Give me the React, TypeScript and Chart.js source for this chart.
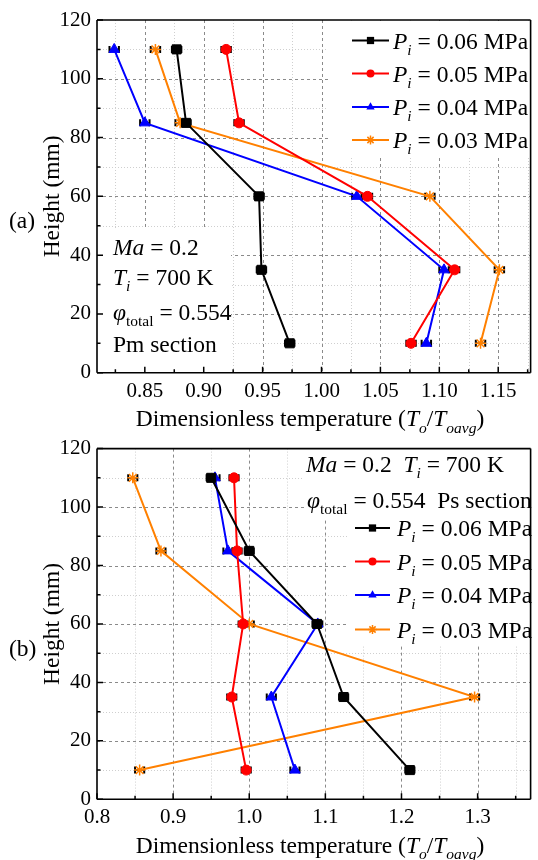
import React, { useEffect, useRef } from 'react';
import { Chart, registerables } from 'chart.js';
Chart.register(...registerables);

// ---------------- DATA ----------------
const heights = [110, 85, 60, 35, 10];
const pressureLabels = ['0.06', '0.05', '0.04', '0.03'];

// (a) Pm section
const pmP006 = [0.877, 0.885, 0.947, 0.949, 0.973];
const pmP005 = [0.919, 0.930, 1.039, 1.113, 1.076];
const pmP004 = [0.824, 0.850, 1.030, 1.104, 1.089];
const pmP003 = [0.859, 0.880, 1.092, 1.151, 1.135];
const pmErr = [0.004, 0.004, 0.004, 0.004, 0.004];

// (b) Ps section
const psP006 = [0.950, 1.000, 1.089, 1.124, 1.211];
const psP005 = [0.980, 0.984, 0.992, 0.977, 0.996];
const psP004 = [0.955, 0.972, 1.090, 1.029, 1.060];
const psP003 = [0.847, 0.884, 1.000, 1.296, 0.856];
const psErr = [0.006, 0.006, 0.006, 0.006, 0.006];

const xMajorA = [0.85, 0.9, 0.95, 1.0, 1.05, 1.1, 1.15];
const xMinorA = [0.825, 0.875, 0.925, 0.975, 1.025, 1.075, 1.125, 1.175];
const xMajorB = [0.8, 0.9, 1.0, 1.1, 1.2, 1.3];
const xMinorB = [0.85, 0.95, 1.05, 1.15, 1.25, 1.35];
const yMajor = [0, 20, 40, 60, 80, 100, 120];
const yMinor = [10, 30, 50, 70, 90, 110];

// ---------------- STYLE ----------------
const FONT = '"Liberation Serif", "Times New Roman", serif';
const colors = ['#000000', '#FF0000', '#0000FF', '#FF8000'];
const pointStyles = ['rect', 'circle', 'triangle', 'star'];
const pointRadii = [6.4, 5, 6, 5.5];

type Seg = { t: string; it?: boolean; sub?: boolean };

function segFont(s: Seg, size: number) {
  const sz = s.sub ? size * 0.66 : size;
  return `${s.it ? 'italic ' : ''}${sz}px ${FONT}`;
}
function drawRich(ctx: CanvasRenderingContext2D, segs: Seg[], x: number, y: number, size: number, align: 'left' | 'center' = 'left') {
  ctx.save();
  ctx.textBaseline = 'alphabetic';
  ctx.textAlign = 'left';
  ctx.fillStyle = '#000';
  let w = 0;
  for (const s of segs) { ctx.font = segFont(s, size); w += ctx.measureText(s.t).width; }
  let cx = align === 'center' ? x - w / 2 : x;
  for (const s of segs) {
    ctx.font = segFont(s, size);
    ctx.fillText(s.t, cx, s.sub ? y + size * 0.27 : y);
    cx += ctx.measureText(s.t).width;
  }
  ctx.restore();
}

function drawMarker(ctx: CanvasRenderingContext2D, style: string, x: number, y: number, r: number, color: string) {
  ctx.save();
  ctx.fillStyle = color;
  ctx.strokeStyle = color;
  ctx.lineWidth = 1.5;
  ctx.beginPath();
  if (style === 'rect') {
    const s = r * Math.SQRT1_2;
    ctx.rect(x - s, y - s, 2 * s, 2 * s);
    ctx.fill();
  } else if (style === 'circle') {
    ctx.arc(x, y, r, 0, Math.PI * 2);
    ctx.fill();
  } else if (style === 'triangle') {
    ctx.moveTo(x, y - r);
    ctx.lineTo(x + r * 0.866, y + r * 0.5);
    ctx.lineTo(x - r * 0.866, y + r * 0.5);
    ctx.closePath();
    ctx.fill();
  } else {
    for (let k = 0; k < 4; k++) {
      const a = (k * Math.PI) / 4;
      ctx.moveTo(x - r * Math.cos(a), y - r * Math.sin(a));
      ctx.lineTo(x + r * Math.cos(a), y + r * Math.sin(a));
    }
    ctx.stroke();
  }
  ctx.restore();
}

type PanelCfg = {
  key: string;
  series: number[][];
  err: number[];
  xMin: number; xMax: number;
  xMajor: number[]; xMinor: number[]; xDec: number;
  canvasH: number; top: number; z: number;
  padTop: number; plotBottom: number;
  boxes: number[][];
  notes: { segs: Seg[]; x: number; y: number }[];
  legend: { x0: number; x1: number; tx: number; ys: number[] };
  label: { t: string; x: number; y: number };
};

const panels: PanelCfg[] = [
  {
    key: 'a',
    series: [pmP006, pmP005, pmP004, pmP003],
    err: pmErr,
    xMin: 0.8094, xMax: 1.1775,
    xMajor: xMajorA, xMinor: xMinorA, xDec: 2,
    canvasH: 440, top: 0, z: 2,
    padTop: 20, plotBottom: 372.7,
    boxes: [[328, 21, 536, 158], [98, 230, 231, 372]],
    notes: [
      { segs: [{ t: 'Ma', it: true }, { t: ' = 0.2' }], x: 113, y: 254.5 },
      { segs: [{ t: 'T', it: true }, { t: 'i', it: true, sub: true }, { t: ' = 700 K' }], x: 113, y: 284.5 },
      { segs: [{ t: 'φ', it: true }, { t: 'total', sub: true }, { t: ' = 0.554' }], x: 113, y: 320 },
      { segs: [{ t: 'Pm section' }], x: 113, y: 351.5 },
    ],
    legend: { x0: 352, x1: 389, tx: 393, ys: [40.5, 73.5, 107, 140] },
    label: { t: '(a)', x: 9, y: 228 },
  },
  {
    key: 'b',
    series: [psP006, psP005, psP004, psP003],
    err: psErr,
    xMin: 0.8, xMax: 1.3696,
    xMajor: xMajorB, xMinor: xMinorB, xDec: 1,
    canvasH: 430, top: 430, z: 1,
    padTop: 16, plotBottom: 369.3,
    boxes: [[304, 17, 536, 90], [348, 80, 536, 216]],
    notes: [
      { segs: [{ t: 'Ma', it: true }, { t: ' = 0.2  ' }, { t: 'T', it: true }, { t: 'i', it: true, sub: true }, { t: ' = 700 K' }], x: 306, y: 41.5 },
      { segs: [{ t: 'φ', it: true }, { t: 'total', sub: true }, { t: ' = 0.554  Ps section' }], x: 307, y: 78 },
    ],
    legend: { x0: 355, x1: 390, tx: 397, ys: [98, 131.5, 165, 199.5] },
    label: { t: '(b)', x: 9, y: 226 },
  },
];

function buildConfig(cfg: PanelCfg): any {
  const datasets = cfg.series.map((vals, i) => ({
    label: pressureLabels[i],
    data: vals.map((v, j) => ({ x: v, y: heights[j] })),
    borderColor: colors[i],
    backgroundColor: colors[i],
    pointStyle: pointStyles[i],
    pointRadius: pointRadii[i],
    pointBorderWidth: i === 3 ? 1.5 : 1,
    borderWidth: 2,
    showLine: true,
    fill: false,
    tension: 0,
  }));

  const decor = {
    id: 'decor' + cfg.key,
    beforeDatasetsDraw(chart: any) {
      const ctx: CanvasRenderingContext2D = chart.ctx;
      const a = chart.chartArea;
      const xs = chart.scales.x;
      const ys = chart.scales.y;
      ctx.save();
      // minor grid
      ctx.strokeStyle = '#cfcfcf';
      ctx.lineWidth = 1;
      ctx.setLineDash([1, 2]);
      ctx.beginPath();
      for (const v of cfg.xMinor) {
        const px = Math.round(xs.getPixelForValue(v)) + 0.5;
        if (px <= a.left || px >= a.right) continue;
        ctx.moveTo(px, a.top); ctx.lineTo(px, a.bottom);
      }
      for (const v of yMinor) {
        const py = Math.round(ys.getPixelForValue(v)) + 0.5;
        ctx.moveTo(a.left, py); ctx.lineTo(a.right, py);
      }
      ctx.stroke();
      // major grid
      ctx.strokeStyle = '#8a8a8a';
      ctx.setLineDash([3, 3]);
      ctx.beginPath();
      for (const v of cfg.xMajor) {
        const px = Math.round(xs.getPixelForValue(v)) + 0.5;
        if (px <= a.left + 1 || px >= a.right) continue;
        ctx.moveTo(px, a.top); ctx.lineTo(px, a.bottom);
      }
      for (const v of yMajor) {
        const py = Math.round(ys.getPixelForValue(v)) + 0.5;
        if (py <= a.top + 1 || py >= a.bottom - 1) continue;
        ctx.moveTo(a.left, py); ctx.lineTo(a.right, py);
      }
      ctx.stroke();
      ctx.setLineDash([]);
      // white boxes (legend / note backgrounds)
      ctx.fillStyle = '#ffffff';
      for (const b of cfg.boxes) ctx.fillRect(b[0], b[1], b[2] - b[0], b[3] - b[1]);
      // frame
      ctx.strokeStyle = '#000';
      ctx.lineWidth = 1.6;
      ctx.beginPath();
      ctx.moveTo(a.left, a.top); ctx.lineTo(a.right, a.top);
      ctx.moveTo(a.left, a.top); ctx.lineTo(a.left, a.bottom);
      ctx.moveTo(a.left, a.bottom); ctx.lineTo(a.right, a.bottom);
      ctx.moveTo(a.right, a.top); ctx.lineTo(a.right, a.bottom);
      ctx.stroke();
      // inward ticks
      ctx.lineWidth = 1.5;
      ctx.beginPath();
      for (const v of cfg.xMajor) {
        const px = xs.getPixelForValue(v);
        ctx.moveTo(px, a.bottom); ctx.lineTo(px, a.bottom - 6);
      }
      for (const v of cfg.xMinor) {
        const px = xs.getPixelForValue(v);
        if (px >= a.right) continue;
        ctx.moveTo(px, a.bottom); ctx.lineTo(px, a.bottom - 3.5);
      }
      for (const v of yMajor) {
        const py = ys.getPixelForValue(v);
        ctx.moveTo(a.left, py); ctx.lineTo(a.left + 6, py);
      }
      for (const v of yMinor) {
        const py = ys.getPixelForValue(v);
        ctx.moveTo(a.left, py); ctx.lineTo(a.left + 3.5, py);
      }
      ctx.stroke();
      // error bars
      ctx.strokeStyle = '#000';
      cfg.series.forEach((vals) => {
        vals.forEach((v, j) => {
          const e = cfg.err[j];
          const xl = xs.getPixelForValue(v - e);
          const xr = xs.getPixelForValue(v + e);
          const py = ys.getPixelForValue(heights[j]);
          ctx.lineWidth = 1.5;
          ctx.beginPath();
          ctx.moveTo(xl, py); ctx.lineTo(xr, py);
          ctx.stroke();
          ctx.lineWidth = 2;
          ctx.beginPath();
          ctx.moveTo(xl, py - 3.5); ctx.lineTo(xl, py + 3.5);
          ctx.moveTo(xr, py - 3.5); ctx.lineTo(xr, py + 3.5);
          ctx.stroke();
        });
      });
      ctx.restore();
    },
    afterDraw(chart: any) {
      const ctx: CanvasRenderingContext2D = chart.ctx;
      const a = chart.chartArea;
      const size = 23.5;
      // legend
      cfg.series.forEach((_, i) => {
        const cy = cfg.legend.ys[i];
        ctx.save();
        ctx.strokeStyle = colors[i];
        ctx.lineWidth = 2;
        ctx.beginPath();
        ctx.moveTo(cfg.legend.x0, cy); ctx.lineTo(cfg.legend.x1, cy);
        ctx.stroke();
        ctx.restore();
        drawMarker(ctx, pointStyles[i], (cfg.legend.x0 + cfg.legend.x1) / 2, cy, pointRadii[i] * 0.8, colors[i]);
        drawRich(ctx, [{ t: 'P', it: true }, { t: 'i', it: true, sub: true }, { t: ' = ' + pressureLabels[i] + ' MPa' }], cfg.legend.tx, cy + 8, size);
      });
      // notes
      for (const n of cfg.notes) drawRich(ctx, n.segs, n.x, n.y, size);
      // x title
      drawRich(ctx, [
        { t: 'Dimensionless temperature (' },
        { t: 'T', it: true }, { t: 'o', it: true, sub: true },
        { t: '/' },
        { t: 'T', it: true }, { t: 'oavg', it: true, sub: true },
        { t: ')' },
      ], 310, a.bottom + 53.5, size, 'center');
      // y title
      ctx.save();
      ctx.translate(59, (a.top + a.bottom) / 2);
      ctx.rotate(-Math.PI / 2);
      drawRich(ctx, [{ t: 'Height (mm)' }], 0, 0, size, 'center');
      ctx.restore();
      // panel label
      drawRich(ctx, [{ t: cfg.label.t }], cfg.label.x, cfg.label.y, size);
    },
  };

  return {
    type: 'scatter',
    data: { datasets },
    options: {
      animation: false,
      responsive: false,
      devicePixelRatio: 1,
      layout: { padding: { top: cfg.padTop, right: 1, left: 0, bottom: 0 } },
      plugins: { legend: { display: false }, tooltip: { enabled: false }, title: { display: false } },
      scales: {
        x: {
          type: 'linear',
          position: 'bottom',
          min: cfg.xMin,
          max: cfg.xMax,
          afterBuildTicks: (s: any) => { s.ticks = cfg.xMajor.map((v) => ({ value: v })); },
          afterFit: (s: any) => { s.height = cfg.canvasH - cfg.plotBottom; },
          ticks: {
            callback: (v: any) => Number(v).toFixed(cfg.xDec),
            font: { family: FONT, size: 21 },
            color: '#000',
            padding: 6,
            maxRotation: 0,
            autoSkip: false,
          },
          grid: { display: false, drawTicks: false },
          border: { display: false },
        },
        y: {
          type: 'linear',
          min: 0,
          max: 120,
          afterBuildTicks: (s: any) => { s.ticks = yMajor.map((v) => ({ value: v })); },
          afterFit: (s: any) => { s.width = 97; },
          ticks: {
            callback: (v: any) => String(v),
            font: { family: FONT, size: 21 },
            color: '#000',
            padding: 6,
            autoSkip: false,
          },
          grid: { display: false, drawTicks: false },
          border: { display: false },
        },
      },
    },
    plugins: [decor],
  };
}

function Panel({ cfg }: { cfg: PanelCfg }) {
  const ref = useRef<HTMLCanvasElement>(null);
  useEffect(() => {
    const chart = new Chart(ref.current as HTMLCanvasElement, buildConfig(cfg));
    return () => chart.destroy();
  }, [cfg]);
  return (
    <canvas
      ref={ref}
      width={538}
      height={cfg.canvasH}
      style={{ position: 'absolute', left: 0, top: cfg.top, zIndex: cfg.z, width: 538, height: cfg.canvasH }}
    />
  );
}

export default function App() {
  return (
    <div style={{ position: 'absolute', left: 0, top: 0, width: 538, height: 860, background: '#fff', overflow: 'hidden' }}>
      {panels.map((p) => (
        <Panel key={p.key} cfg={p} />
      ))}
    </div>
  );
}
